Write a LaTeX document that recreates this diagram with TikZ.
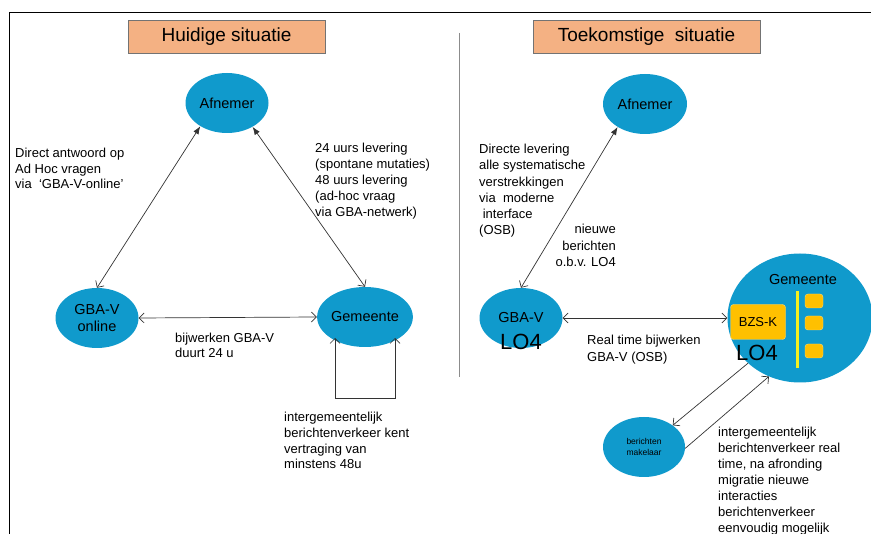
\documentclass[tikz,border=0pt]{standalone}
\usepackage{fontspec}
\setmainfont{Liberation Sans}
\usetikzlibrary{positioning}
\usetikzlibrary{arrows.meta}
\usetikzlibrary{shapes.geometric}

\definecolor{gbablauw}{RGB}{16,154,204}
\definecolor{koporanje}{RGB}{244,177,131}
\definecolor{bzsgeel}{RGB}{255,192,0}
\definecolor{lijngeel}{RGB}{245,240,30}

\begin{document}
\begin{tikzpicture}[x=1pt,y=-1pt,
	kop/.style={draw=black!55,fill=koporanje,rectangle,inner sep=0pt,minimum height=33pt,font=\fontsize{19}{22}\selectfont},
	bol/.style={fill=gbablauw,ellipse,inner sep=0pt,minimum width=83pt,minimum height=60pt,align=center,font=\fontsize{14.5}{17}\selectfont},
	uitleg/.style={inner sep=0pt,anchor=north west,align=left,font=\fontsize{13}{16}\selectfont},
	vak/.style={fill=bzsgeel,draw=bzsgeel!55!white,rounded corners=3pt,inner sep=0pt},
	open/.style={draw=black!80,line width=0.7pt,{Straight Barb[length=5pt,width=10pt]}-{Straight Barb[length=5pt,width=10pt]}},
	vol/.style={draw=black!80,line width=0.7pt,{Latex[length=8pt,width=6pt]}-{Straight Barb[length=5pt,width=10pt]}},
	enkel/.style={draw=black!80,line width=0.7pt,-{Straight Barb[length=5pt,width=10pt]}}]
	\useasboundingbox (0,0) rectangle (871,534);
	\draw[line width=1pt] (871,13) -- (9,13) -- (9,534);
	\draw[black!45,line width=1pt] (459,33) -- (459,377);

	% huidige situatie
	\node[kop,minimum width=197pt] (kopnu) at (226.5,36.5) {Huidige situatie};
	\node[bol] (afnemer) at (227,103) {Afnemer};
	\node[bol] (gbav) at (97,318) {GBA-V\\online};
	\node[bol,minimum width=84pt] (gemeente) at (365,317) {Gemeente};

	\draw[vol] (afnemer.-139) -- (gbav.north);
	\draw[vol] (afnemer.-43) -- (gemeente.north);
	\draw[open] (gbav.east) -- (gemeente.west);
	\draw[open] ([shift={(-30,21)}]gemeente.center) -- ++(0,60) -- ++(60,0) -- ++(0,-60);

	\node[uitleg,font=\fontsize{13}{15.5}\selectfont] (antwoord) at (15,148) {Direct antwoord op\\Ad Hoc vragen\\via\ \ ‘GBA-V-online’};
	\node[uitleg] (levering) at (315,143) {24 uurs levering\\(spontane mutaties)\\48 uurs levering\\(ad-hoc vraag\\via GBA-netwerk)};
	\node[uitleg,font=\fontsize{13}{15}\selectfont] (bijwerken) at (175,333) {bijwerken GBA-V\\duurt 24 u};
	\node[uitleg,font=\fontsize{13}{15.7}\selectfont] (vertraging) at (284,412) {intergemeentelijk\\berichtenverkeer kent\\vertraging van\\minstens 48u};

	% toekomstige situatie
	\node[kop,minimum width=227pt] (koptoek) at (646.5,36.5) {Toekomstige\ \ situatie};
	\node[bol,minimum width=84pt] (afnemer2) at (645,104) {Afnemer};
	\node[bol] (gbav2) at (521,318) {GBA-V};
	\node[font=\fontsize{22}{24}\selectfont,inner sep=0pt] (lo4links) at (521,342) {LO4};
	\node[bol,minimum width=145pt,minimum height=129pt] (gemeente2) at (800,318) {};
	\node[font=\fontsize{14.5}{17}\selectfont,inner sep=0pt] (gemlabel) at (803,280) {Gemeente};
	\node[vak,minimum width=55pt,minimum height=35pt,font=\fontsize{13}{15}\selectfont] (bzsk) at (758,322) {BZS-K};
	\node[font=\fontsize{22}{24}\selectfont,inner sep=0pt] (lo4rechts) at (757,353) {LO4};
	\draw[lijngeel,line width=3pt] (797,291) -- (797,368);
	\node[vak,minimum width=18pt,minimum height=14pt] (vak1) at (814,301) {};
	\node[vak,minimum width=18pt,minimum height=14pt] (vak2) at (814,323) {};
	\node[vak,minimum width=18pt,minimum height=14pt] (vak3) at (814,351) {};
	\node[bol,minimum width=82pt,font=\fontsize{8.5}{11}\selectfont] (makelaar) at (644,447) {berichten\\makelaar};

	\draw[vol] (afnemer2.-140) -- (gbav2.north);
	\draw[open] (gbav2.east) -- (gemeente2.west);
	\draw[enkel] (gemeente2.-139) -- (makelaar.37);
	\draw[enkel] (makelaar.-2) -- (gemeente2.-118.5);

	\node[uitleg,font=\fontsize{13}{16.2}\selectfont] (directe) at (479,144) {Directe levering\\alle systematische\\verstrekkingen\\via\ \ moderne\\\ interface\\(OSB)};
	\node[uitleg,anchor=north east,align=right,font=\fontsize{13}{16.5}\selectfont] (nieuwe) at (616,224) {nieuwe\\berichten\\o.b.v. LO4};
	\node[uitleg,font=\fontsize{13}{17}\selectfont] (realtime) at (587,335) {Real time bijwerken\\GBA-V (OSB)};
	\node[uitleg] (realverkeer) at (718,427) {intergemeentelijk\\berichtenverkeer real\\time, na afronding\\migratie nieuwe\\interacties\\berichtenverkeer\\eenvoudig mogelijk};
\end{tikzpicture}
\end{document}
